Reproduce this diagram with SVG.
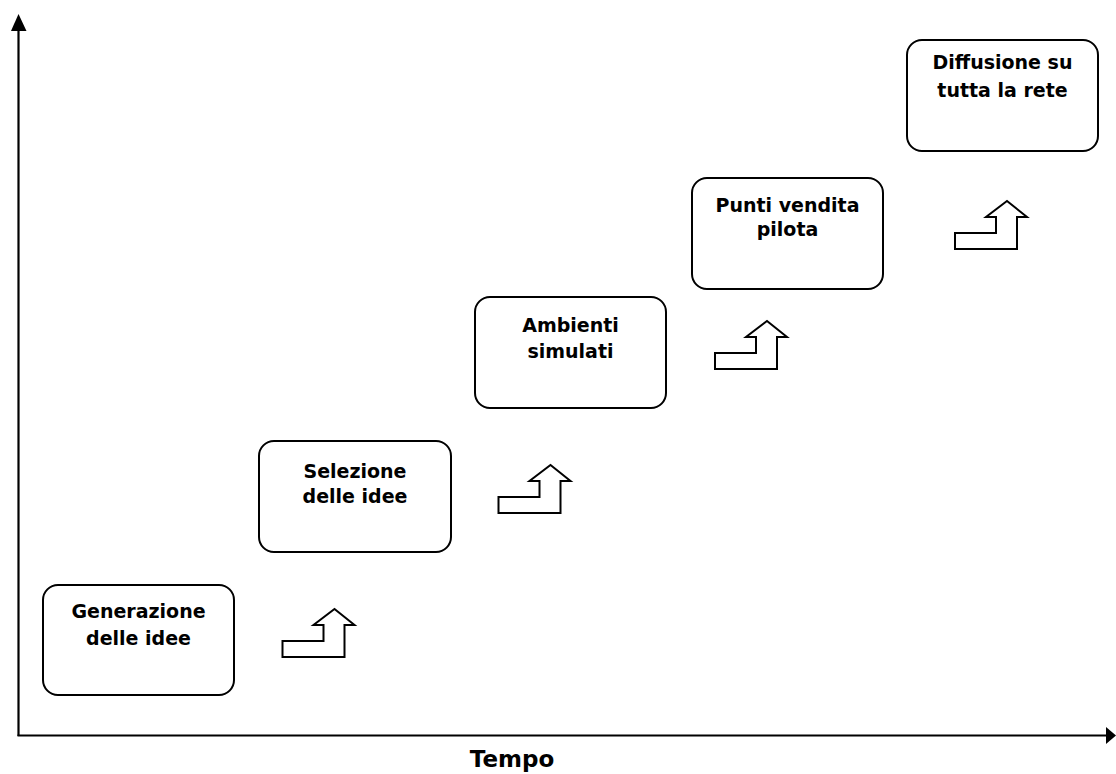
<svg xmlns="http://www.w3.org/2000/svg" width="1116" height="774" viewBox="0 0 1116 774">
<style>
.box{fill:#fff;stroke:#000;stroke-width:2}
.lbl{font-family:"DejaVu Sans","Verdana",sans-serif;font-weight:bold;font-size:19px;fill:#000;text-anchor:middle}
.axis{stroke:#000;stroke-width:2.2;fill:none}
.step{fill:#fff;stroke:#000;stroke-width:2;stroke-linejoin:miter}
</style>
<defs>
<path id="stepArrow" d="M0,32 H41 V16 H31 L52,0 L72,16 H62 V48 H0 Z"/>
</defs>
<rect width="1116" height="774" fill="#fff"/>
<g id="axes">
<line class="axis" x1="18.5" y1="28" x2="18.5" y2="736"/>
<polygon points="18.5,14 11,31 26.5,31" fill="#000"/>
<line class="axis" x1="17.5" y1="735.5" x2="1108" y2="735.5"/>
<polygon points="1116,735.5 1106,727 1106,744" fill="#000"/>
<text class="lbl" x="512" y="767" style="font-size:23px">Tempo</text>
</g>
<g id="connectors">
<use href="#stepArrow" class="step" x="282.5" y="609"/>
<use href="#stepArrow" class="step" x="498.5" y="465"/>
<use href="#stepArrow" class="step" x="715" y="321"/>
<use href="#stepArrow" class="step" x="955" y="201"/>
</g>
<g id="n1">
<rect class="box" x="43" y="585" width="191" height="110" rx="15"/>
<text class="lbl" x="138.5" y="618">Generazione</text>
<text class="lbl" x="138.5" y="645">delle idee</text>
</g>
<g id="n2">
<rect class="box" x="259" y="441" width="192" height="111" rx="15"/>
<text class="lbl" x="355" y="478">Selezione</text>
<text class="lbl" x="355" y="503">delle idee</text>
</g>
<g id="n3">
<rect class="box" x="475" y="297" width="191" height="111" rx="15"/>
<text class="lbl" x="570.5" y="332">Ambienti</text>
<text class="lbl" x="570.5" y="358">simulati</text>
</g>
<g id="n4">
<rect class="box" x="692" y="178" width="191" height="111" rx="15"/>
<text class="lbl" x="787.5" y="212">Punti vendita</text>
<text class="lbl" x="787.5" y="236">pilota</text>
</g>
<g id="n5">
<rect class="box" x="907" y="40" width="191" height="111" rx="15"/>
<text class="lbl" x="1002.5" y="69">Diffusione su</text>
<text class="lbl" x="1002.5" y="97">tutta la rete</text>
</g>
</svg>
